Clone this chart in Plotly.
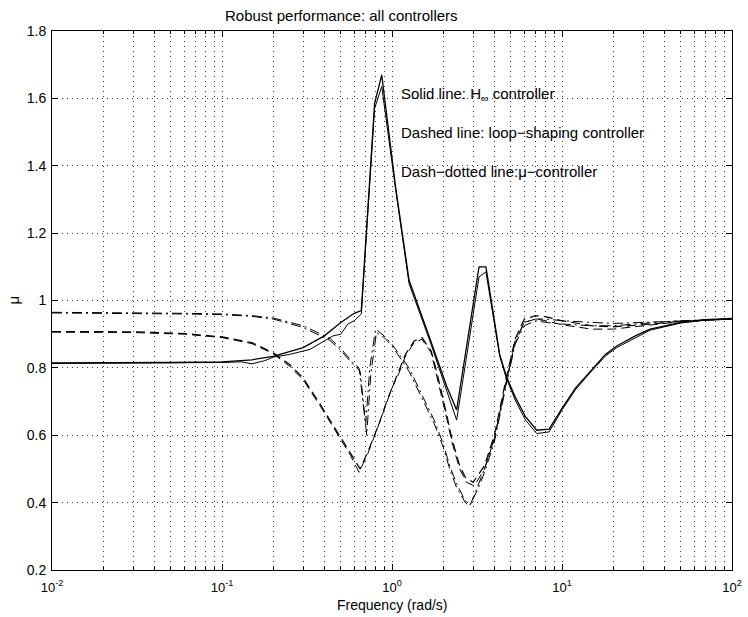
import plotly.graph_objects as go

# ---------------------------------------------------------------- data
# mu upper / lower bounds, for each controller

# H-infinity controller (solid)
freq_hinf_a = [0.01, 0.02, 0.05, 0.1, 0.15, 0.2, 0.3, 0.4, 0.5, 0.6, 0.66, 0.79, 0.87, 1.05, 1.26, 1.67,
               2.1, 2.4, 3.25, 3.57, 4.3, 4.7, 5.3, 6.1, 7.1, 8.4, 10, 12, 14.6, 18, 21, 27, 33, 50, 70, 100]
mu_hinf_a = [0.815, 0.815, 0.816, 0.818, 0.824, 0.834, 0.86, 0.895, 0.935, 0.962, 0.97, 1.585, 1.67, 1.337, 1.06, 0.887,
             0.745, 0.675, 1.10, 1.10, 0.84, 0.775, 0.714, 0.655, 0.615, 0.618, 0.68, 0.74, 0.79, 0.84, 0.865, 0.895, 0.915, 0.935, 0.943, 0.947]

freq_hinf_b = [0.01, 0.05, 0.1, 0.13, 0.15, 0.18, 0.2, 0.25, 0.3, 0.33, 0.4, 0.45, 0.5, 0.55, 0.6, 0.66, 0.79, 0.87,
               1.05, 1.26, 1.67, 2.1, 2.4, 3.25, 3.57, 4.3, 4.7, 5.3, 6.1, 7.1, 8.4, 10, 12, 14.6, 18, 21, 27, 33, 50, 70, 100]
mu_hinf_b = [0.813, 0.814, 0.816, 0.818, 0.812, 0.822, 0.832, 0.84, 0.85, 0.855, 0.88, 0.895, 0.9, 0.93, 0.94, 0.96, 1.57, 1.635,
             1.33, 1.05, 0.88, 0.73, 0.645, 1.07, 1.085, 0.835, 0.77, 0.705, 0.645, 0.605, 0.61, 0.675, 0.735, 0.785, 0.835, 0.86, 0.89, 0.912, 0.933, 0.942, 0.946]

# loop-shaping controller (dashed)
freq_ls_a = [0.01, 0.03, 0.06, 0.1, 0.15, 0.2, 0.25, 0.3, 0.38, 0.49, 0.57, 0.65, 0.74, 0.84, 0.93, 1.02, 1.1, 1.2,
             1.35, 1.5, 1.7, 1.85, 2.1, 2.25, 2.5, 2.7, 3.0, 3.5, 4.0, 4.7, 5.3, 6.0, 7.0, 8.0, 10, 15, 20, 30, 50, 100]
mu_ls_a = [0.908, 0.907, 0.902, 0.892, 0.875, 0.845, 0.81, 0.77, 0.69, 0.6, 0.545, 0.5, 0.565, 0.635, 0.70, 0.75, 0.79, 0.84,
           0.88, 0.89, 0.85, 0.78, 0.66, 0.59, 0.51, 0.475, 0.46, 0.51, 0.60, 0.77, 0.885, 0.945, 0.955, 0.952, 0.94, 0.925, 0.922, 0.928, 0.938, 0.945]

freq_ls_b = [0.01, 0.03, 0.06, 0.1, 0.15, 0.2, 0.25, 0.3, 0.38, 0.49, 0.57, 0.64, 0.72, 0.82, 0.92, 1.0, 1.1, 1.2,
             1.35, 1.5, 1.7, 1.85, 2.1, 2.25, 2.5, 2.75, 3.05, 3.5, 4.0, 4.7, 5.3, 6.0, 7.0, 8.0, 10, 15, 20, 30, 50, 100]
mu_ls_b = [0.906, 0.905, 0.9, 0.89, 0.872, 0.842, 0.805, 0.765, 0.685, 0.595, 0.54, 0.49, 0.545, 0.62, 0.69, 0.74, 0.785, 0.835,
           0.875, 0.885, 0.845, 0.77, 0.65, 0.58, 0.5, 0.46, 0.45, 0.5, 0.59, 0.76, 0.875, 0.935, 0.945, 0.94, 0.928, 0.915, 0.915, 0.925, 0.937, 0.945]

# mu-controller (dash-dotted)
freq_mu_a = [0.01, 0.03, 0.06, 0.1, 0.15, 0.2, 0.3, 0.43, 0.5, 0.59, 0.64, 0.70, 0.74, 0.80, 0.9, 1.0, 1.26, 1.5, 1.77,
             2.0, 2.2, 2.4, 2.7, 2.9, 3.2, 3.5, 4.0, 4.7, 5.3, 6.0, 7.0, 8.0, 10, 15, 20, 30, 50, 100]
mu_mu_a = [0.965, 0.964, 0.962, 0.96, 0.955, 0.948, 0.925, 0.888, 0.858, 0.815, 0.80, 0.63, 0.80, 0.915, 0.895, 0.87, 0.80, 0.72, 0.645,
           0.575, 0.505, 0.456, 0.405, 0.395, 0.45, 0.50, 0.59, 0.76, 0.88, 0.935, 0.945, 0.945, 0.94, 0.935, 0.932, 0.935, 0.94, 0.945]

freq_mu_b = [0.01, 0.03, 0.06, 0.1, 0.15, 0.2, 0.3, 0.43, 0.5, 0.59, 0.65, 0.71, 0.75, 0.81, 0.9, 1.0, 1.26, 1.5, 1.77,
             2.0, 2.2, 2.4, 2.7, 2.85, 3.2, 3.5, 4.0, 4.7, 5.3, 6.0, 7.0, 8.0, 10, 15, 20, 30, 50, 100]
mu_mu_b = [0.963, 0.962, 0.96, 0.958, 0.953, 0.945, 0.92, 0.882, 0.852, 0.81, 0.79, 0.60, 0.78, 0.905, 0.89, 0.865, 0.79, 0.71, 0.635,
           0.565, 0.495, 0.445, 0.40, 0.39, 0.44, 0.49, 0.58, 0.75, 0.87, 0.925, 0.94, 0.935, 0.93, 0.925, 0.925, 0.932, 0.94, 0.945]

# axis ticks
x_ticks = [0.01, 0.1, 1, 10, 100]
x_tick_text = ['10<sup>-2</sup>', '10<sup>-1</sup>', '10<sup>0</sup>', '10<sup>1</sup>', '10<sup>2</sup>']
y_ticks = [0.2, 0.4, 0.6, 0.8, 1.0, 1.2, 1.4, 1.6, 1.8]
y_tick_text = ['0.2', '0.4', '0.6', '0.8', '1', '1.2', '1.4', '1.6', '1.8']

# legend texts written inside the axes
notes = ['Solid line: H<sub>\u221e</sub> controller',
         'Dashed line: loop\u2212shaping controller',
         'Dash\u2212dotted line:\u03bc\u2212controller']
notes_y = [1.612, 1.50, 1.382]

FONT = 'Liberation Sans, Arial, Helvetica, sans-serif'
DOTS = '1px,4px'

#################################### FIGURE #############################################
fig = go.Figure()

series = [
    (freq_hinf_a, mu_hinf_a, 'solid', 1.3),
    (freq_hinf_b, mu_hinf_b, 'solid', 1.0),
    (freq_ls_a, mu_ls_a, '9px,5px', 1.2),
    (freq_ls_b, mu_ls_b, '9px,5px', 1.0),
    (freq_mu_a, mu_mu_a, '10px,4px,2px,4px', 1.0),
    (freq_mu_b, mu_mu_b, '10px,4px,2px,4px', 1.0),
]
for f, m, dash, w in series:
    fig.add_trace(go.Scatter(
        x=f, y=m, mode='lines',
        line=dict(color='black', width=w, dash=dash),
        showlegend=False, hoverinfo='skip',
    ))

for txt, yy in zip(notes, notes_y):
    fig.add_annotation(
        x=0.04, y=yy, xref='x', yref='y',
        text=txt, showarrow=False, xanchor='left', yanchor='middle',
        font=dict(family=FONT, size=15, color='black'),
    )

# title and axis labels as annotations, so they sit where MATLAB put them
fig.add_annotation(
    x=(223 - 52) / 680, y=1, xref='paper', yref='paper',
    text='Robust performance: all controllers', showarrow=False,
    xanchor='left', yanchor='middle', yshift=16,
    font=dict(family=FONT, size=15, color='black'),
)
fig.add_annotation(
    x=0.5, y=0, xref='paper', yref='paper',
    text='Frequency (rad/s)', showarrow=False,
    xanchor='center', yanchor='middle', yshift=-35,
    font=dict(family=FONT, size=14, color='black'),
)
fig.add_annotation(
    x=0, y=0.5, xref='paper', yref='paper',
    text='\u03bc', showarrow=False, textangle=-90,
    xanchor='center', yanchor='middle', xshift=-39,
    font=dict(family=FONT, size=15, color='black'),
)

fig.update_layout(
    width=748, height=617,
    margin=dict(l=52, r=16, t=31, b=47, pad=0),
    plot_bgcolor='#fff',
    paper_bgcolor='#fff',
    font=dict(family=FONT, size=14, color='black'),
    showlegend=False,
)

fig.update_xaxes(
    type='log', range=[-2, 2],
    tickvals=x_ticks, ticktext=x_tick_text, tickfont=dict(size=13),
    ticks='inside', ticklen=6, tickcolor='black', ticklabelstandoff=5,
    showline=True, linewidth=1, linecolor='black', mirror='allticks',
    showgrid=True, gridcolor='#333', gridwidth=1, griddash=DOTS,
    minor=dict(dtick='D1', ticks='inside', ticklen=3, tickcolor='black',
               showgrid=True, gridcolor='#333', gridwidth=1, griddash=DOTS),
    zeroline=False, automargin=False,
)
fig.update_yaxes(
    range=[0.2, 1.8],
    tickvals=y_ticks, ticktext=y_tick_text, tickfont=dict(size=14),
    ticks='inside', ticklen=6, tickcolor='black', ticklabelstandoff=2,
    showline=True, linewidth=1, linecolor='black', mirror='allticks',
    showgrid=True, gridcolor='#333', gridwidth=1, griddash=DOTS,
    zeroline=False, automargin=False,
)

# the page's default body margin would push the 748x617 figure out of the window
fig.write_html('out.html', config={'displayModeBar': False},
               post_script="document.body.style.margin = '0px';")
